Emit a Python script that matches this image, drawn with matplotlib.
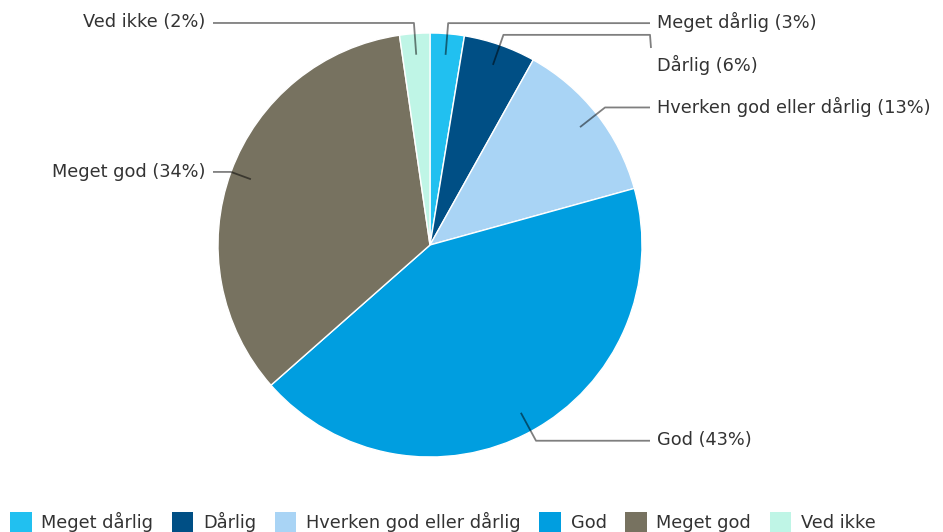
import numpy as np
import matplotlib.pyplot as plt
from matplotlib.patches import Rectangle

# data
categories = ['Meget dårlig', 'Dårlig', 'Hverken god eller dårlig', 'God', 'Meget god', 'Ved ikke']
values = [2.6, 5.5, 12.6, 42.8, 34.2, 2.3]
colors = ['#21C0F0', '#004F85', '#A9D4F5', '#009EE0', '#777260', '#BFF5E6']

W, H = 943, 532
CX, CY, R = 430, 245, 212  # pie centre / radius in pixels (from top)

# label layout (pixel coords from top-left)
label_x = [657, 657, 657, 657, 205, 205]
label_y = [22, 65, 107, 440, 172, 22]
elbow_r = [1.05, 1.05, 1.05, 1.05, 1.0, 1.05]

fig = plt.figure(figsize=(W / 100, H / 100), dpi=100)
ax = fig.add_axes([0, 0, 1, 1])


def py(y):
    return H - y


wedges, _ = ax.pie(values, colors=colors, startangle=90, counterclock=False,
                   center=(CX, py(CY)), radius=R,
                   wedgeprops=dict(edgecolor='white', linewidth=1.0), frame=True)
ax.set_xlim(0, W)
ax.set_ylim(0, H)
ax.set_aspect('equal')
ax.axis('off')

for i, w in enumerate(wedges):
    mid = np.deg2rad((w.theta1 + w.theta2) / 2)
    dx, dy = np.cos(mid), np.sin(mid)
    x0, y0 = CX + 0.9 * R * dx, py(CY) + 0.9 * R * dy
    x1, y1 = CX + elbow_r[i] * R * dx, py(CY) + elbow_r[i] * R * dy
    right = label_x[i] > CX
    xe = label_x[i] - 7 if right else label_x[i] + 8
    xs = [x0, x1, xe]
    ys = [y0, y1, y1]
    if abs(py(label_y[i]) - y1) > 12:
        xs.append(xe + 1)
        ys.append(py(label_y[i]) + 17)
    ax.plot(xs, ys, color='black', alpha=0.5, lw=1.3, solid_capstyle='butt')
    txt = f"{categories[i]} ({values[i]:.0f}%)"
    ax.text(label_x[i], py(label_y[i]), txt, ha='left' if right else 'right',
            va='center', fontsize=12.8, color='#333333', family='DejaVu Sans')

# legend along the bottom
handles = [Rectangle((0, 0), 1, 1, facecolor=c, edgecolor='none') for c in colors]
fig.legend(handles, categories, loc='lower left', bbox_to_anchor=(-0.006, -0.03),
           ncol=6, frameon=False, fontsize=12.8, handlelength=1.2, handleheight=1.3,
           handletextpad=0.55, columnspacing=1.05, labelcolor='#333333')

fig.savefig('out.png', dpi=100)
